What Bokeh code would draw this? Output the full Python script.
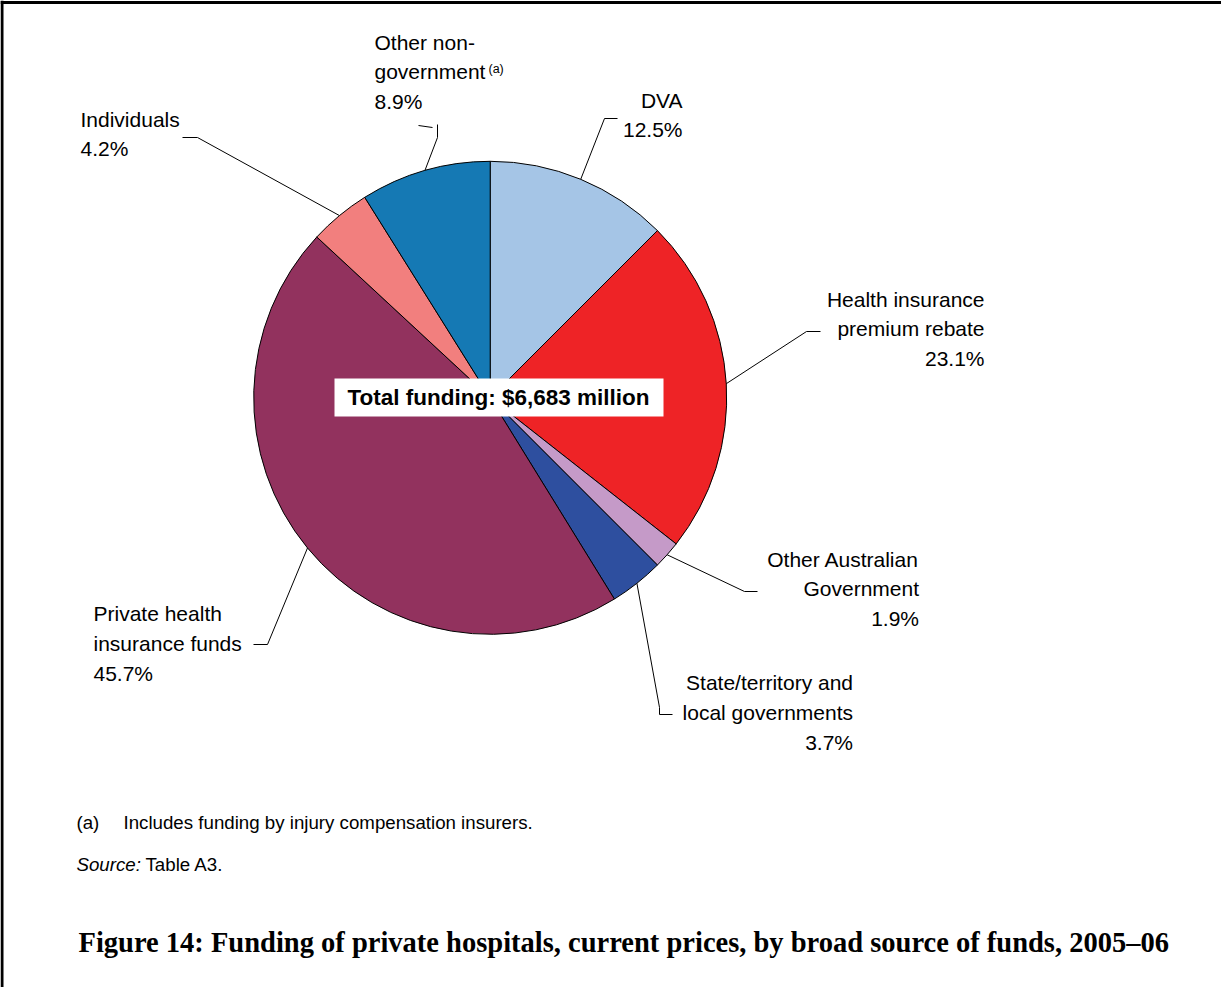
import math
from bokeh.plotting import figure
from bokeh.models import Range1d
from bokeh.core.properties import value
from bokeh.embed import file_html
from bokeh.resources import INLINE

# ---------------- data ----------------
categories = ["DVA", "Health insurance premium rebate", "Other Australian Government",
              "State/territory and local governments", "Private health insurance funds",
              "Individuals", "Other non-government"]
shares = [12.5, 23.1, 1.9, 3.7, 45.7, 4.2, 8.9]
colors = ["#A5C5E6", "#EE2326", "#C59AC8", "#2E4F9F", "#92325E", "#F27F7E", "#1579B4"]
label_lines = [["DVA"], ["Health insurance", "premium rebate"], ["Other Australian", "Government"],
               ["State/territory and", "local governments"], ["Private health", "insurance funds"],
               ["Individuals"], ["Other non-", "government"]]
center_text = "Total funding: $6,683 million"
footnote_mark = "(a)"
footnote_text = "Includes funding by injury compensation insurers."
source_label = "Source:"
source_text = "Table A3."
caption = "Figure 14: Funding of private hospitals, current prices, by broad source of funds, 2005\u201306"

# ---------------- layout ----------------
W, H = 1221, 987
def Y(py):
    return H - py

cx, cy, r = 489.7, Y(397.3), 236.5
FONT = value("Liberation Sans")

p = figure(width=W, height=H, output_backend="svg", toolbar_location=None,
           x_range=Range1d(0, W), y_range=Range1d(0, H),
           x_axis_location=None, y_axis_location=None, min_border=0)
p.grid.visible = False
p.outline_line_color = None
p.background_fill_color = "white"
p.border_fill_color = "white"

# frame (top and left)
p.segment(x0=[0, 1.5], y0=[Y(2), Y(0)], x1=[W, 1.5], y1=[Y(2), Y(H)], line_color="black", line_width=3)

# wedges (clockwise from 12 o'clock)
total = sum(shares)
cum = 0.0
starts, ends, mids = [], [], []
for s in shares:
    a0 = cum / total * 2 * math.pi
    cum += s
    a1 = cum / total * 2 * math.pi
    starts.append(math.pi / 2 - a0)
    ends.append(math.pi / 2 - a1)
    mids.append((a0 + a1) / 2)

p.wedge(x=cx, y=cy, radius=r, start_angle=starts, end_angle=ends, direction="clock",
        fill_color=colors, line_color="black", line_width=1)

edge_pts = [(cx + r * math.sin(m), cy + r * math.cos(m)) for m in mids]

# leader line fixed elbows (pixel coordinates)
elbows = [
    [(617, 118), (604, 118)],
    [(820, 331), (806, 331)],
    [(757, 591), (744, 591)],
    [(672, 714), (659, 714), (659, 707)],
    [(253, 644), (267, 644)],
    [(182, 137), (197, 137)],
    [(437, 124), (437, 137)],
]
xs, ys = [], []
for el, (ex, ey) in zip(elbows, edge_pts):
    xs.append([e[0] for e in el] + [ex])
    ys.append([Y(e[1]) for e in el] + [ey])
xs.append([418, 432]); ys.append([Y(125), Y(127)])
p.multi_line(xs=xs, ys=ys, line_color="black", line_width=1)

# labels: (anchor x, align, first baseline px)
LBL_SHIFT = 8
label_pos = [
    (682, "right", 107.5),
    (984, "right", 306.5),
    (918.5, "right", 566.5),
    (852.5, "right", 690),
    (93, "left", 621),
    (80, "left", 126.5),
    (374, "left", 49.5),
]
LS = 29.8
for lines, s, (ax, al, b0) in zip(label_lines, shares, label_pos):
    txt = lines + [f"{s:.1f}%"]
    for i, t in enumerate(txt):
        p.text(x=[ax], y=[Y(b0 + i * LS - LBL_SHIFT)], text=[t], text_align=al,
               text_baseline="alphabetic", text_font=FONT, text_font_size="21px",
               text_color="black")

# superscript (a)
p.text(x=[488], y=[Y(72 - 4)], text=[footnote_mark], text_align="left", text_baseline="alphabetic",
       text_font=FONT, text_font_size="12.5px", text_color="black")

# center box
p.quad(left=[334], right=[663], bottom=[Y(416)], top=[Y(378)], fill_color="white", line_color=None)
p.text(x=[498], y=[Y(405 - 8.5)], text=[center_text], text_align="center", text_baseline="alphabetic",
       text_font=FONT, text_font_size="22.5px", text_font_style="bold", text_color="black")

# footnotes
FN = "18.7px"
p.text(x=[76], y=[Y(828.5 - 6.5)], text=[footnote_mark], text_baseline="alphabetic",
       text_font=FONT, text_font_size=FN, text_color="black")
p.text(x=[123], y=[Y(828.5 - 6.5)], text=[footnote_text], text_baseline="alphabetic",
       text_font=FONT, text_font_size=FN, text_color="black")
p.text(x=[76], y=[Y(870.5 - 6.5)], text=[source_label], text_baseline="alphabetic",
       text_font=FONT, text_font_size=FN, text_font_style="italic", text_color="black")
p.text(x=[145], y=[Y(870.5 - 6.5)], text=[source_text], text_baseline="alphabetic",
       text_font=FONT, text_font_size=FN, text_color="black")

# caption
p.text(x=[78], y=[Y(946.5 - 5)], text=[caption], text_baseline="alphabetic",
       text_font=value("Liberation Serif"), text_font_size="28.5px", text_font_style="bold",
       text_color="black")

open("out.html", "w").write(file_html(p, INLINE))
